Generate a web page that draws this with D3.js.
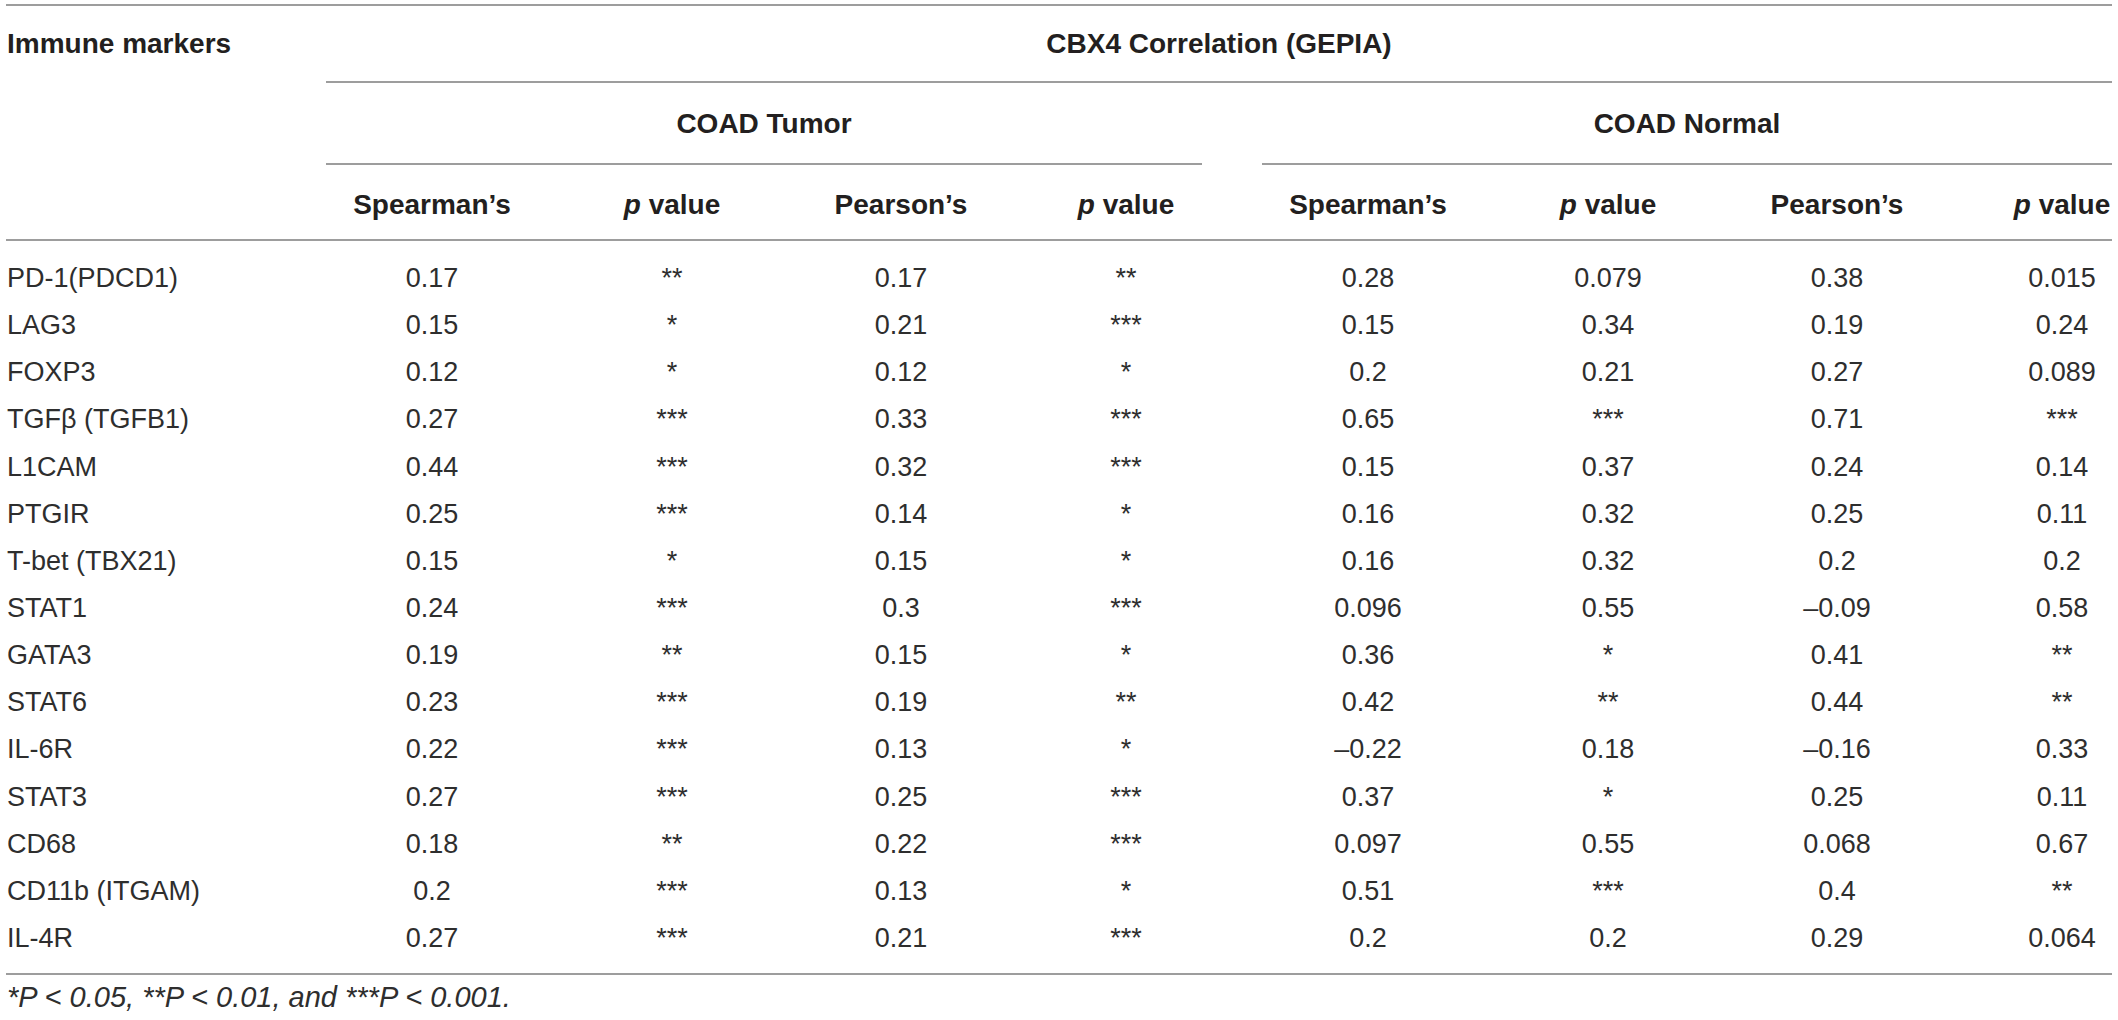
<!DOCTYPE html>
<html>
<head>
<meta charset="utf-8">
<script src="https://cdn.jsdelivr.net/npm/d3@7/dist/d3.min.js"></script>
<style>
  html, body { margin: 0; padding: 0; background: #ffffff; }
  svg { display: block; }
  text { font-family: "Liberation Sans", Arial, Helvetica, sans-serif; fill: #231f20; }
  .hdr { font-weight: bold; font-size: 28px; }
  .cell { font-size: 27px; font-weight: normal; fill: #2e2e2e; }
  .note { font-size: 29px; font-style: italic; fill: #2e2e2e; }
</style>
</head>
<body>
<svg id="chart" width="2118" height="1020"></svg>
<script>
// ---------------- DATA ----------------
const title = "CBX4 Correlation (GEPIA)";
const rowHeader = "Immune markers";
const groups = ["COAD Tumor", "COAD Normal"];
const columns = ["Spearman's", "p value", "Pearson's", "p value"];

const markers = ["PD-1(PDCD1)", "LAG3", "FOXP3", "TGFβ (TGFB1)", "L1CAM", "PTGIR",
  "T-bet (TBX21)", "STAT1", "GATA3", "STAT6", "IL-6R", "STAT3", "CD68",
  "CD11b (ITGAM)", "IL-4R"];

const tumorSpearman  = ["0.17","0.15","0.12","0.27","0.44","0.25","0.15","0.24","0.19","0.23","0.22","0.27","0.18","0.2","0.27"];
const tumorSpearmanP = ["**","*","*","***","***","***","*","***","**","***","***","***","**","***","***"];
const tumorPearson   = ["0.17","0.21","0.12","0.33","0.32","0.14","0.15","0.3","0.15","0.19","0.13","0.25","0.22","0.13","0.21"];
const tumorPearsonP  = ["**","***","*","***","***","*","*","***","*","**","*","***","***","*","***"];

const normalSpearman  = ["0.28","0.15","0.2","0.65","0.15","0.16","0.16","0.096","0.36","0.42","–0.22","0.37","0.097","0.51","0.2"];
const normalSpearmanP = ["0.079","0.34","0.21","***","0.37","0.32","0.32","0.55","*","**","0.18","*","0.55","***","0.2"];
const normalPearson   = ["0.38","0.19","0.27","0.71","0.24","0.25","0.2","–0.09","0.41","0.44","–0.16","0.25","0.068","0.4","0.29"];
const normalPearsonP  = ["0.015","0.24","0.089","***","0.14","0.11","0.2","0.58","**","**","0.33","0.11","0.67","**","0.064"];

const footnote = "*P < 0.05, **P < 0.01, and ***P < 0.001.";

// table built from the arrays
const groupData = [
  [tumorSpearman, tumorSpearmanP, tumorPearson, tumorPearsonP],
  [normalSpearman, normalSpearmanP, normalPearson, normalPearsonP]
];

// ---------------- LAYOUT ----------------
const left = 6, right = 2112;
const svg = d3.select("#chart");

const groupX = d3.scalePoint().domain(groups).range([326, 1262]);
const groupW = 876;
const colX = d3.scaleOrdinal().domain(d3.range(columns.length)).range([106, 346, 575, 800]);
const rowY = d3.scalePoint().domain(markers).range([287, 947]);

const lineColor = "#9d9d9d";
function hline(x1, x2, y) {
  svg.append("line").attr("x1", x1).attr("x2", x2).attr("y1", y).attr("y2", y)
    .attr("stroke", lineColor).attr("stroke-width", 2);
}

// rules
hline(left, right, 5);
hline(326, right, 82);
groups.forEach(g => {
  const x0 = groupX(g);
  hline(x0, Math.min(x0 + groupW, right), 164);
});
hline(left, right, 240);
hline(left, right, 974);

// top headers
svg.append("text").attr("class", "hdr").attr("x", 7).attr("y", 53).text(rowHeader);
svg.append("text").attr("class", "hdr").attr("x", (326 + right) / 2).attr("y", 53)
  .attr("text-anchor", "middle").text(title);

groups.forEach(g => {
  const x0 = groupX(g);
  const x1 = Math.min(x0 + groupW, right);
  svg.append("text").attr("class", "hdr").attr("x", (x0 + x1) / 2).attr("y", 133)
    .attr("text-anchor", "middle").text(g);
});

// column headers
groups.forEach(g => {
  columns.forEach((c, i) => {
    const t = svg.append("text").attr("class", "hdr")
      .attr("x", groupX(g) + colX(i)).attr("y", 214).attr("text-anchor", "middle");
    if (c.startsWith("p ")) {
      t.append("tspan").attr("font-style", "italic").text("p");
      t.append("tspan").text(c.slice(1));
    } else {
      t.text(c.replace("'", "\u2019"));
    }
  });
});

// row labels
svg.selectAll("text.rowlab").data(markers).enter().append("text")
  .attr("class", "cell rowlab").attr("x", 7).attr("y", d => rowY(d)).text(d => d);

// cells
groups.forEach((g, gi) => {
  groupData[gi].forEach((vals, ci) => {
    svg.selectAll(null).data(vals).enter().append("text")
      .attr("class", "cell")
      .attr("x", groupX(g) + colX(ci))
      .attr("y", (d, ri) => rowY(markers[ri]))
      .attr("text-anchor", "middle")
      .attr("font-size", d => d.startsWith("*") ? 24 : 27)
      .text(d => d);
  });
});

// footnote
svg.append("text").attr("class", "note").attr("x", 7).attr("y", 1007).text(footnote);
</script>
</body>
</html>
